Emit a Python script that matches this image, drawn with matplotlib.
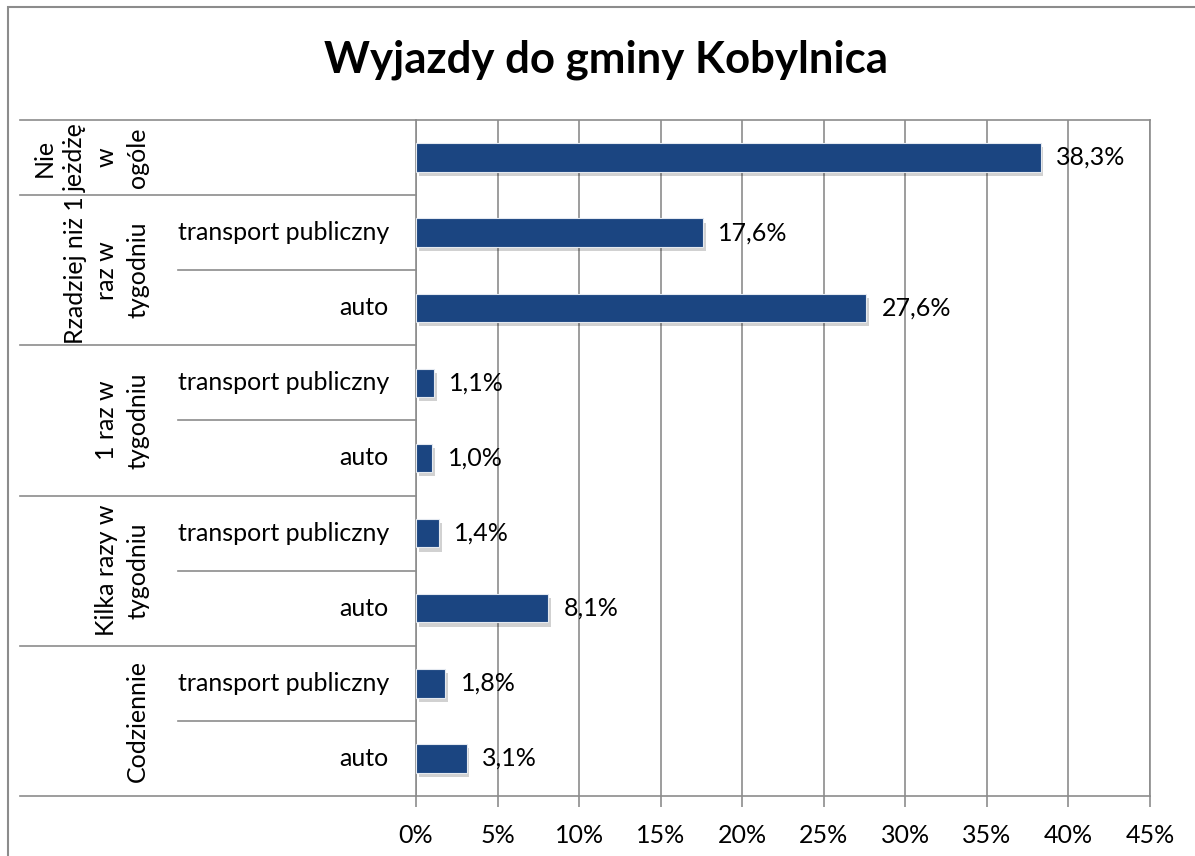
import matplotlib
matplotlib.use("Agg")
import matplotlib.pyplot as plt
from matplotlib import patheffects, transforms
from matplotlib.patches import Rectangle

# Survey results: trips to Kobylnica municipality
title = "Wyjazdy do gminy Kobylnica"
groups = ["Nie\njeżdżę\nw\nogóle",
          "Rzadziej niż 1\nraz w\ntygodniu",
          "1 raz w\ntygodniu",
          "Kilka razy w\ntygodniu",
          "Codziennie"]
group_sizes = [1, 2, 2, 2, 2]
modes = ["", "transport publiczny", "auto", "transport publiczny", "auto",
         "transport publiczny", "auto", "transport publiczny", "auto"]
values = [38.3, 17.6, 27.6, 1.1, 1.0, 1.4, 8.1, 1.8, 3.1]
xticks = [0, 5, 10, 15, 20, 25, 30, 35, 40, 45]

W, H = 1195, 856
BAR = "#1B4581"
GRID = "#8C8C8C"
FONT = "Lato"
FS = 18

plt.rcParams["font.family"] = [FONT, "DejaVu Sans"]

fig = plt.figure(figsize=(W / 100, H / 100), dpi=100)
fig.patch.set_facecolor("white")
ax = fig.add_axes([416 / W, (H - 796) / H, (1150 - 416) / W, (796 - 120) / H])

n = len(values)
rows = list(range(n))
shadow = [patheffects.SimplePatchShadow(offset=(2, -3), shadow_rgbFace="black", alpha=0.18),
          patheffects.Normal()]
ax.barh(rows, values, height=0.38, color=BAR, edgecolor="#E4E9F0", linewidth=0.8,
        zorder=3, path_effects=shadow)

for i, v in enumerate(values):
    ax.annotate(f"{v:.1f}".replace(".", ",") + "%", xy=(v, i), xytext=(11, 0),
                textcoords="offset points", ha="left", va="center", fontsize=FS,
                color="black", zorder=4)

ax.set_xlim(xticks[0], xticks[-1])
ax.set_ylim(n - 0.5, -0.5)
ax.set_xticks(xticks)
ax.set_xticklabels([f"{t}%" for t in xticks])
ax.set_yticks([])
ax.grid(axis="x", color=GRID, linewidth=1.2, zorder=0)
ax.set_axisbelow(True)
for s in ax.spines.values():
    s.set_color(GRID)
    s.set_linewidth(1.2)
ax.tick_params(axis="x", length=8, width=1.2, color=GRID, pad=12, labelsize=FS)

# Category table on the left of the plot area
trans = transforms.blended_transform_factory(fig.transFigure, ax.transData)
start = 0
bounds = [-0.5]
for g, size in zip(groups, group_sizes):
    mid = start + (size - 1) / 2
    ax.text(149 / W, mid, g, transform=trans, rotation=90, ha="right", va="center",
            multialignment="center", fontsize=FS, linespacing=1.42)
    for k in range(1, size):
        yb = start + k - 0.5
        ax.plot([178 / W, 416 / W], [yb, yb], transform=trans, color=GRID,
                linewidth=1.2, clip_on=False)
    start += size
    bounds.append(start - 0.5)
for yb in bounds:
    ax.plot([20 / W, 416 / W], [yb, yb], transform=trans, color=GRID,
            linewidth=1.2, clip_on=False)

for i, m in enumerate(modes):
    if m:
        ax.text(389 / W, i, m, transform=trans, ha="right", va="center", fontsize=FS)

fig.text(606 / W, (H - 60) / H, title, ha="center", va="center",
         fontsize=31.5, fontweight="bold")

fig.add_artist(Rectangle((8 / W, -0.1), 1.2, (H - 7) / H + 0.1,
                         transform=fig.transFigure, fill=False,
                         edgecolor=GRID, linewidth=1.5))

fig.savefig("out.png", dpi=100)
